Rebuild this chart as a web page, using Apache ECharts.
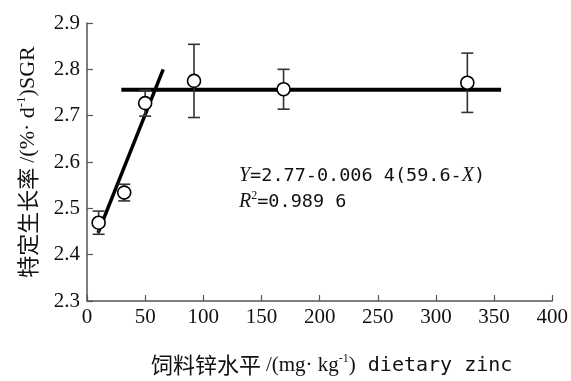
<!DOCTYPE html>
<html>
<head>
<meta charset="utf-8">
<script src="https://cdn.jsdelivr.net/npm/echarts@6/dist/echarts.min.js"></script>
<style>html,body{margin:0;padding:0;background:#fff;}#c{width:571px;height:381px;}</style>
</head>
<body>
<div id="c"></div>
<script>
// Data
const zincLevels = [10, 32, 50, 92, 169, 327];
const sgrMeans   = [2.469, 2.534, 2.727, 2.775, 2.757, 2.771];
const sgrErrors  = [0.025, 0.018, 0.028, 0.079, 0.043, 0.064];
const slopeLineX = [9.5, 65.5];
const slopeLineY = [2.447, 2.800];
const flatLineX  = [29.5, 356];
const flatLineY  = [2.756, 2.756];
const xTicks = [0, 400, 50];   // min, max, interval
const yTicks = [2.3, 2.9, 0.1];

const chart = echarts.init(document.getElementById('c'), null, {renderer: 'canvas'});

const pts = zincLevels.map((x, i) => [x, sgrMeans[i]]);
const errs = zincLevels.map((x, i) => [x, sgrMeans[i] - sgrErrors[i], sgrMeans[i] + sgrErrors[i]]);
const slopeData = slopeLineX.map((x, i) => [x, slopeLineY[i]]);
const flatData = flatLineX.map((x, i) => [x, flatLineY[i]]);

const axisColor = '#555';
const serif = 'Liberation Serif';
const mono = 'DejaVu Sans Mono';
const cjk = 'Noto Sans CJK SC';

chart.setOption({
  animation: false,
  backgroundColor: '#fff',
  grid: {left: 87, right: 18, top: 23, bottom: 79},
  xAxis: {
    type: 'value', min: xTicks[0], max: xTicks[1], interval: xTicks[2],
    axisLine: {show: true, lineStyle: {color: axisColor, width: 1.5}},
    axisTick: {show: true, inside: true, length: 6, lineStyle: {color: axisColor, width: 1.2}},
    splitLine: {show: false},
    axisLabel: {fontFamily: serif, fontSize: 21, color: '#111', margin: 6},
    name: '{c|饲料锌水平 }{s|/(mg· kg}{sup|-1}{s|)}{m| dietary zinc}',
    nameLocation: 'middle', nameGap: 47,
    nameTextStyle: {
      color: '#111',
      padding: [0, 0, 0, 24],
      rich: {
        c: {fontFamily: cjk, fontSize: 22, color: '#111', lineHeight: 28, verticalAlign: 'bottom'},
        s: {fontFamily: serif, fontSize: 21, color: '#111', lineHeight: 28, verticalAlign: 'bottom'},
        sup: {fontFamily: serif, fontSize: 12, color: '#111', lineHeight: 22, verticalAlign: 'middle', padding: [0, 0, 6, 0]},
        m: {fontFamily: mono, fontSize: 20, color: '#111', lineHeight: 28, verticalAlign: 'bottom'}
      }
    }
  },
  yAxis: {
    type: 'value', min: yTicks[0], max: yTicks[1], interval: yTicks[2],
    axisLine: {show: true, lineStyle: {color: axisColor, width: 1.5}},
    axisTick: {show: true, inside: true, length: 6, lineStyle: {color: axisColor, width: 1.2}},
    splitLine: {show: false},
    axisLabel: {fontFamily: serif, fontSize: 21, color: '#111', margin: 7, formatter: v => v.toFixed(1)},
    name: '{c|特定生长率 }{s|/(%· d}{sup|-1}{s|)SGR}',
    nameLocation: 'middle', nameGap: 48,
    nameTextStyle: {
      color: '#111',
      rich: {
        c: {fontFamily: cjk, fontSize: 22, color: '#111', lineHeight: 28, verticalAlign: 'bottom'},
        s: {fontFamily: serif, fontSize: 22, color: '#111', lineHeight: 28, verticalAlign: 'bottom'},
        sup: {fontFamily: serif, fontSize: 13, color: '#111', lineHeight: 22, verticalAlign: 'middle', padding: [0, 0, 6, 0]}
      }
    }
  },
  series: [
    {
      type: 'line', data: slopeData, symbol: 'none', z: 3,
      lineStyle: {color: '#000', width: 3.5}
    },
    {
      type: 'line', data: flatData, symbol: 'none', z: 3,
      lineStyle: {color: '#000', width: 4}
    },
    {
      type: 'custom', data: errs, z: 4,
      renderItem: function (params, api) {
        const x = api.value(0);
        const lo = api.coord([x, api.value(1)]);
        const hi = api.coord([x, api.value(2)]);
        const hw = 6;
        const style = {stroke: '#333', lineWidth: 1.6, fill: null};
        return {
          type: 'group',
          children: [
            {type: 'line', shape: {x1: lo[0], y1: lo[1], x2: hi[0], y2: hi[1]}, style: style},
            {type: 'line', shape: {x1: lo[0] - hw, y1: lo[1], x2: lo[0] + hw, y2: lo[1]}, style: style},
            {type: 'line', shape: {x1: hi[0] - hw, y1: hi[1], x2: hi[0] + hw, y2: hi[1]}, style: style}
          ]
        };
      }
    },
    {
      type: 'scatter', data: pts, z: 5,
      symbol: 'circle', symbolSize: 13,
      itemStyle: {color: '#fff', borderColor: '#000', borderWidth: 1.6, opacity: 1}
    }
  ],
  graphic: [
    {
      type: 'text', left: 239, top: 166, z: 10,
      style: {
        text: '{i|Y}{t|=2.77-0.006 4(59.6-}{i|X}{t|)}\n{i|R}{sup|2}{t|=0.989 6}',
        rich: {
          t: {fontFamily: mono, fontSize: 18.5, fill: '#111', lineHeight: 26, verticalAlign: 'bottom'},
          i: {fontFamily: serif, fontStyle: 'italic', fontSize: 20, fill: '#111', lineHeight: 26, verticalAlign: 'bottom'},
          sup: {fontFamily: serif, fontSize: 12, fill: '#111', lineHeight: 20, verticalAlign: 'middle', padding: [0, 0, 6, 0]}
        }
      }
    }
  ]
});
</script>
</body>
</html>
